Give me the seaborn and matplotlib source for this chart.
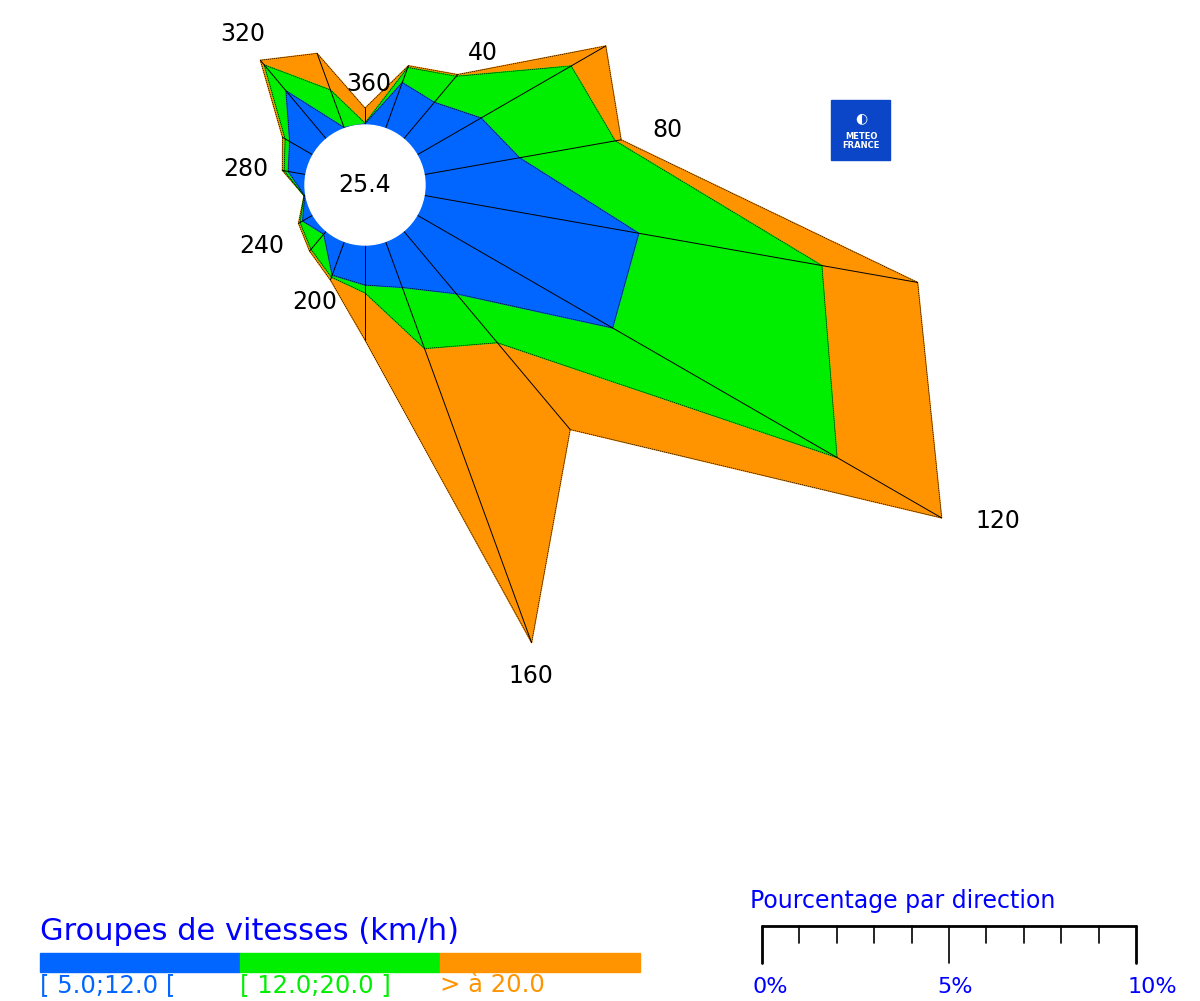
import numpy as np
import seaborn as sns
import matplotlib.pyplot as plt
from matplotlib.patches import Circle, Rectangle

#%% data (cumulative % per direction)
directions = [20, 40, 60, 80, 100, 120, 140, 160, 180, 200, 220, 240, 260, 280, 300, 320, 340, 360]
cum_blue = [1.31, 1.28, 1.98, 2.59, 5.83, 6.04, 2.19, 1.31, 1.07, 0.96, 0.11, 0.32, 0.03, 0.48, 0.72, 1.68, 0.03, 0.03]
cum_green = [1.74, 2.19, 4.76, 5.19, 10.80, 12.97, 3.90, 3.05, 1.28, 1.02, 0.64, 0.40, 0.05, 0.59, 0.86, 2.59, 1.10, 0.05]
cum_orange = [1.79, 2.25, 5.83, 5.35, 13.40, 16.20, 6.93, 11.42, 2.54, 1.10, 0.70, 0.45, 0.05, 0.64, 0.94, 2.75, 2.14, 0.45]
calm = 25.4
dir_labels = [40, 80, 120, 160, 200, 240, 280, 320, 360]
group_labels = ['[ 5.0;12.0 [', '[ 12.0;20.0 ]', '> à 20.0']
scale_labels = ['0%', '5%', '10%']

BLUE, GREEN, ORANGE = '#0066ff', '#00ee00', '#ff9400'

sns.set_style('white')
plt.rcParams['font.family'] = ['DejaVu Sans']
plt.rcParams['text.color'] = 'black'

W, H = 1200, 1001
px = 37.4          # pixels per percent
cx, cy = 365, 185  # centre in pixels
r0 = 60 / px       # radius of calm circle

fig = plt.figure(figsize=(W / 100, H / 100), dpi=100)
ax = fig.add_axes([0, 0, 1, 1])
ax.set_xlim(-cx / px, (W - cx) / px)
ax.set_ylim(-(H - cy) / px, cy / px)
ax.axis('off')

th = np.deg2rad(directions)
def xy(vals):
    r = r0 + np.array(vals)
    return r * np.sin(th), r * np.cos(th)

for vals, col in [(cum_orange, ORANGE), (cum_green, GREEN), (cum_blue, BLUE)]:
    x, y = xy(vals)
    ax.fill(x, y, color=col, zorder=1)
    ax.plot(np.append(x, x[0]), np.append(y, y[0]), color='black', lw=0.5, ls=(0, (2, 1)), zorder=2)

xo, yo = xy(cum_orange)
for i in range(len(directions)):
    ax.plot([r0 * np.sin(th[i]), xo[i]], [r0 * np.cos(th[i]), yo[i]], color='black', lw=0.7, zorder=3)

ax.add_patch(Circle((0, 0), r0, color='white', zorder=4))
ax.text(0, 0, f'{calm}', ha='center', va='center', fontsize=17, color='black', zorder=5)

label_pos = [(483, 53), (667, 130), (998, 521), (531, 676), (315, 302),
             (262, 246), (246, 169), (243, 34), (369, 84)]
for lab, (lx, ly) in zip(dir_labels, label_pos):
    fig.text(lx / W, 1 - ly / H, str(lab), ha='center', va='center', fontsize=17, color='black')

# logo
fig.patches.append(Rectangle((831 / W, 1 - 160 / H), 59 / W, 60 / H, transform=fig.transFigure,
                             color='#0b45c8', figure=fig))
fig.text(861 / W, 1 - 118 / H, '◐', color='white', ha='center', va='center', fontsize=10)
fig.text(861 / W, 1 - 141 / H, 'METEO\nFRANCE', color='white', ha='center', va='center',
         fontsize=6, fontweight='bold', linespacing=1.0)

# speed group legend
fig.text(40 / W, 1 - 931 / H, 'Groupes de vitesses (km/h)', color='#0000ff', fontsize=22, va='center')
for i, (col, lab) in enumerate(zip([BLUE, GREEN, ORANGE], group_labels)):
    x0 = 40 + 200 * i
    fig.patches.append(Rectangle((x0 / W, 1 - 972 / H), 200 / W, 19 / H,
                                 transform=fig.transFigure, color=col, figure=fig))
    fig.text(x0 / W, 1 - 985 / H, lab, color=col, fontsize=17.5, va='center')

# percentage scale
fig.text(750 / W, 1 - 901 / H, 'Pourcentage par direction', color='#0000ff', fontsize=17, va='center')
x0s, x1s = 762, 1136
ax.plot([(x0s - cx) / px, (x1s - cx) / px], [-(926 - cy) / px] * 2, color='black', lw=2)
for k in range(11):
    xt = (x0s - cx) / px + k
    yb = 963 if k in (0, 5, 10) else 943
    ax.plot([xt, xt], [-(926 - cy) / px, -(yb - cy) / px], color='black', lw=2 if k in (0, 10) else 1.2)
for lx, lab in zip([770, 955, 1152], scale_labels):
    fig.text(lx / W, 1 - 987 / H, lab, color='#0000ff', fontsize=16, ha='center', va='center')

fig.savefig('out.png', dpi=100)
